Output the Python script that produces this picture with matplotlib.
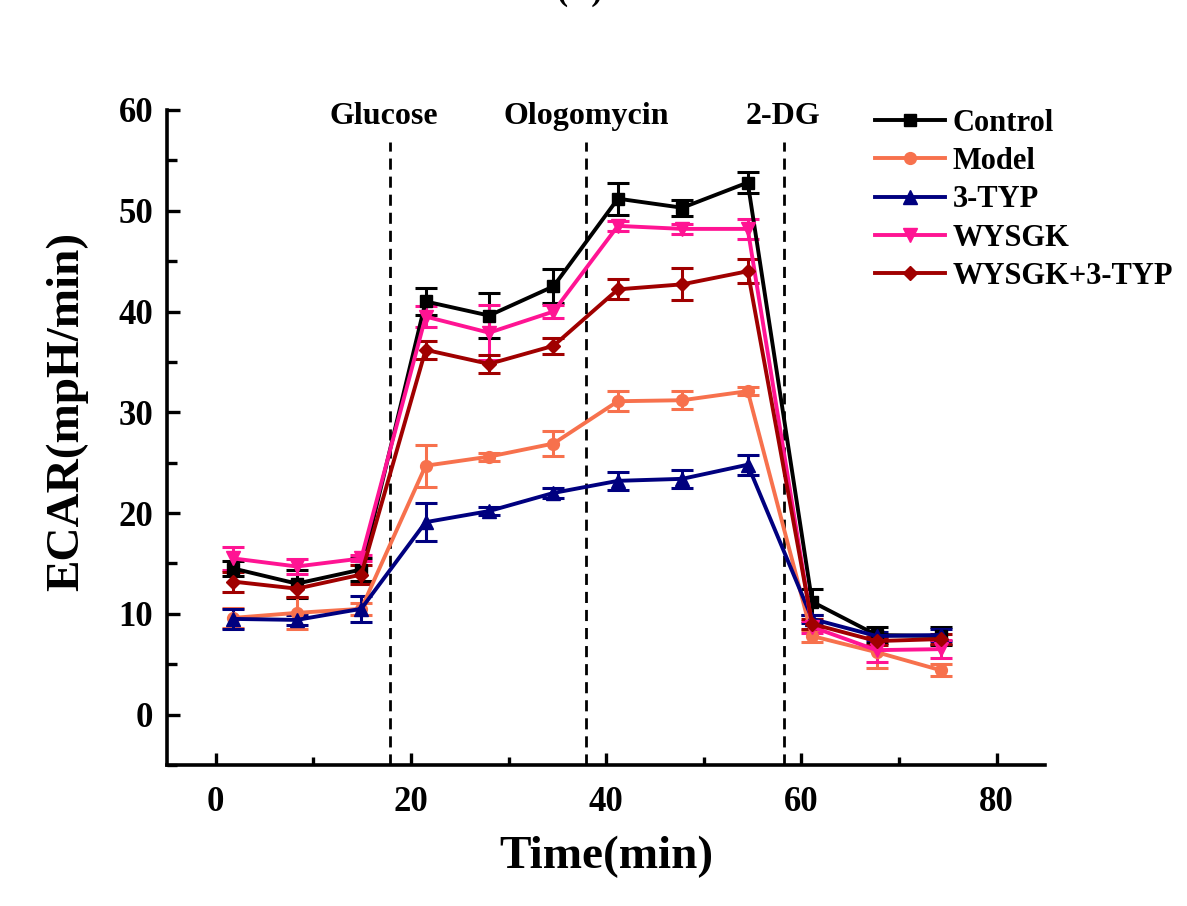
import matplotlib
matplotlib.use('Agg')
import matplotlib.pyplot as plt
from matplotlib.lines import Line2D
from matplotlib.ticker import MultipleLocator

plt.rcParams['font.family'] = ['Liberation Serif', 'DejaVu Serif']
plt.rcParams['font.weight'] = 'bold'

time = [1.8, 8.3, 14.9, 21.5, 28.0, 34.6, 41.2, 47.8, 54.5, 61.1, 67.7, 74.3]

control = [14.5, 13.0, 14.4, 41.0, 39.6, 42.5, 51.2, 50.3, 52.8, 11.2, 7.9, 7.8]
control_err = [0.7, 1.4, 1.1, 1.3, 2.2, 1.7, 1.6, 0.8, 1.0, 1.3, 0.8, 0.9]

model = [9.6, 10.1, 10.5, 24.7, 25.6, 26.9, 31.1, 31.2, 32.1, 7.8, 6.2, 4.4]
model_err = [1.0, 1.6, 0.6, 2.1, 0.4, 1.2, 1.0, 0.9, 0.4, 0.6, 1.6, 0.6]

typ = [9.5, 9.4, 10.5, 19.1, 20.2, 22.0, 23.2, 23.4, 24.8, 9.5, 7.8, 7.9]
typ_err = [1.0, 0.5, 1.3, 1.9, 0.4, 0.5, 0.9, 0.9, 1.0, 0.4, 0.4, 0.6]

wysgk = [15.5, 14.7, 15.5, 39.5, 37.9, 40.0, 48.5, 48.2, 48.2, 8.7, 6.4, 6.5]
wysgk_err = [1.1, 0.7, 0.3, 1.0, 2.7, 0.6, 0.5, 0.5, 1.0, 0.6, 1.2, 0.9]

combo = [13.2, 12.5, 13.9, 36.2, 34.8, 36.6, 42.2, 42.7, 44.0, 9.0, 7.3, 7.5]
combo_err = [1.0, 0.8, 0.9, 0.9, 0.9, 0.8, 1.0, 1.6, 1.2, 0.5, 0.4, 0.5]

series = [
    ('Control', control, control_err, 'black', 's', 8),
    ('Model', model, model_err, '#F7714D', 'o', 8.5),
    ('3-TYP', typ, typ_err, '#00007F', '^', 9.5),
    ('WYSGK', wysgk, wysgk_err, '#FF1493', 'v', 9.5),
    ('WYSGK+3-TYP', combo, combo_err, '#A00000', 'D', 7.5),
]

injections = [17.8, 37.9, 58.2]
injection_labels = ['Glucose', 'Ologomycin', '2-DG']
label_x = [17.2, 38.0, 58.1]

fig = plt.figure(figsize=(11.87, 9.06), dpi=100)
ax = fig.add_axes([0.1407, 0.1556, 0.740, 0.7230])

handles = []
for name, vals, errs, col, mk, ms in series:
    ax.errorbar(time, vals, yerr=errs, color=col, marker=mk, markersize=ms,
                linewidth=2.8, elinewidth=2.2, capsize=8, capthick=2.2)
    handles.append(Line2D([], [], color=col, marker=mk, markersize=ms,
                          linewidth=2.8, label=name))

ax.vlines(injections, -5, 56.8, colors='black', linestyles=(0, (4, 2.5)), linewidth=2.0)
for x, lab in zip(label_x, injection_labels):
    ax.text(x, 59.4, lab, ha='center', va='center', fontsize=23, fontweight='bold')

ax.set_xlim(-5, 85)
ax.set_ylim(-5, 60)
ax.xaxis.set_major_locator(MultipleLocator(20))
ax.xaxis.set_minor_locator(MultipleLocator(10))
ax.yaxis.set_major_locator(MultipleLocator(10))
ax.yaxis.set_minor_locator(MultipleLocator(5))

for s in ['top', 'right']:
    ax.spines[s].set_visible(False)
for s in ['left', 'bottom']:
    ax.spines[s].set_linewidth(2.6)

ax.tick_params(which='major', direction='in', length=9, width=2.4, labelsize=25, pad=10)
ax.tick_params(axis='x', which='major', pad=15)
ax.tick_params(which='minor', direction='in', length=6, width=2.4)
ax.tick_params(axis='y', which='minor', length=7)
for lab in ax.get_xticklabels() + ax.get_yticklabels():
    lab.set_fontweight('bold')

ax.set_xlabel('Time(min)', fontsize=34, fontweight='bold', labelpad=12)
ax.set_ylabel('ECAR(mpH/min)', fontsize=34, fontweight='bold')
ax.yaxis.set_label_coords(-0.09, 0.54)

fig.legend(handles=handles, loc='upper left',
           bbox_to_anchor=(875 / 1187, (906 - 109) / 906),
           frameon=False, fontsize=22, handlelength=2.3, handletextpad=0.25,
           labelspacing=0.3, borderpad=0, borderaxespad=0)

fig.text(580 / 1187, 1.0, '(A)', ha='center', va='baseline', fontsize=24)

fig.savefig('out.png', dpi=100)
